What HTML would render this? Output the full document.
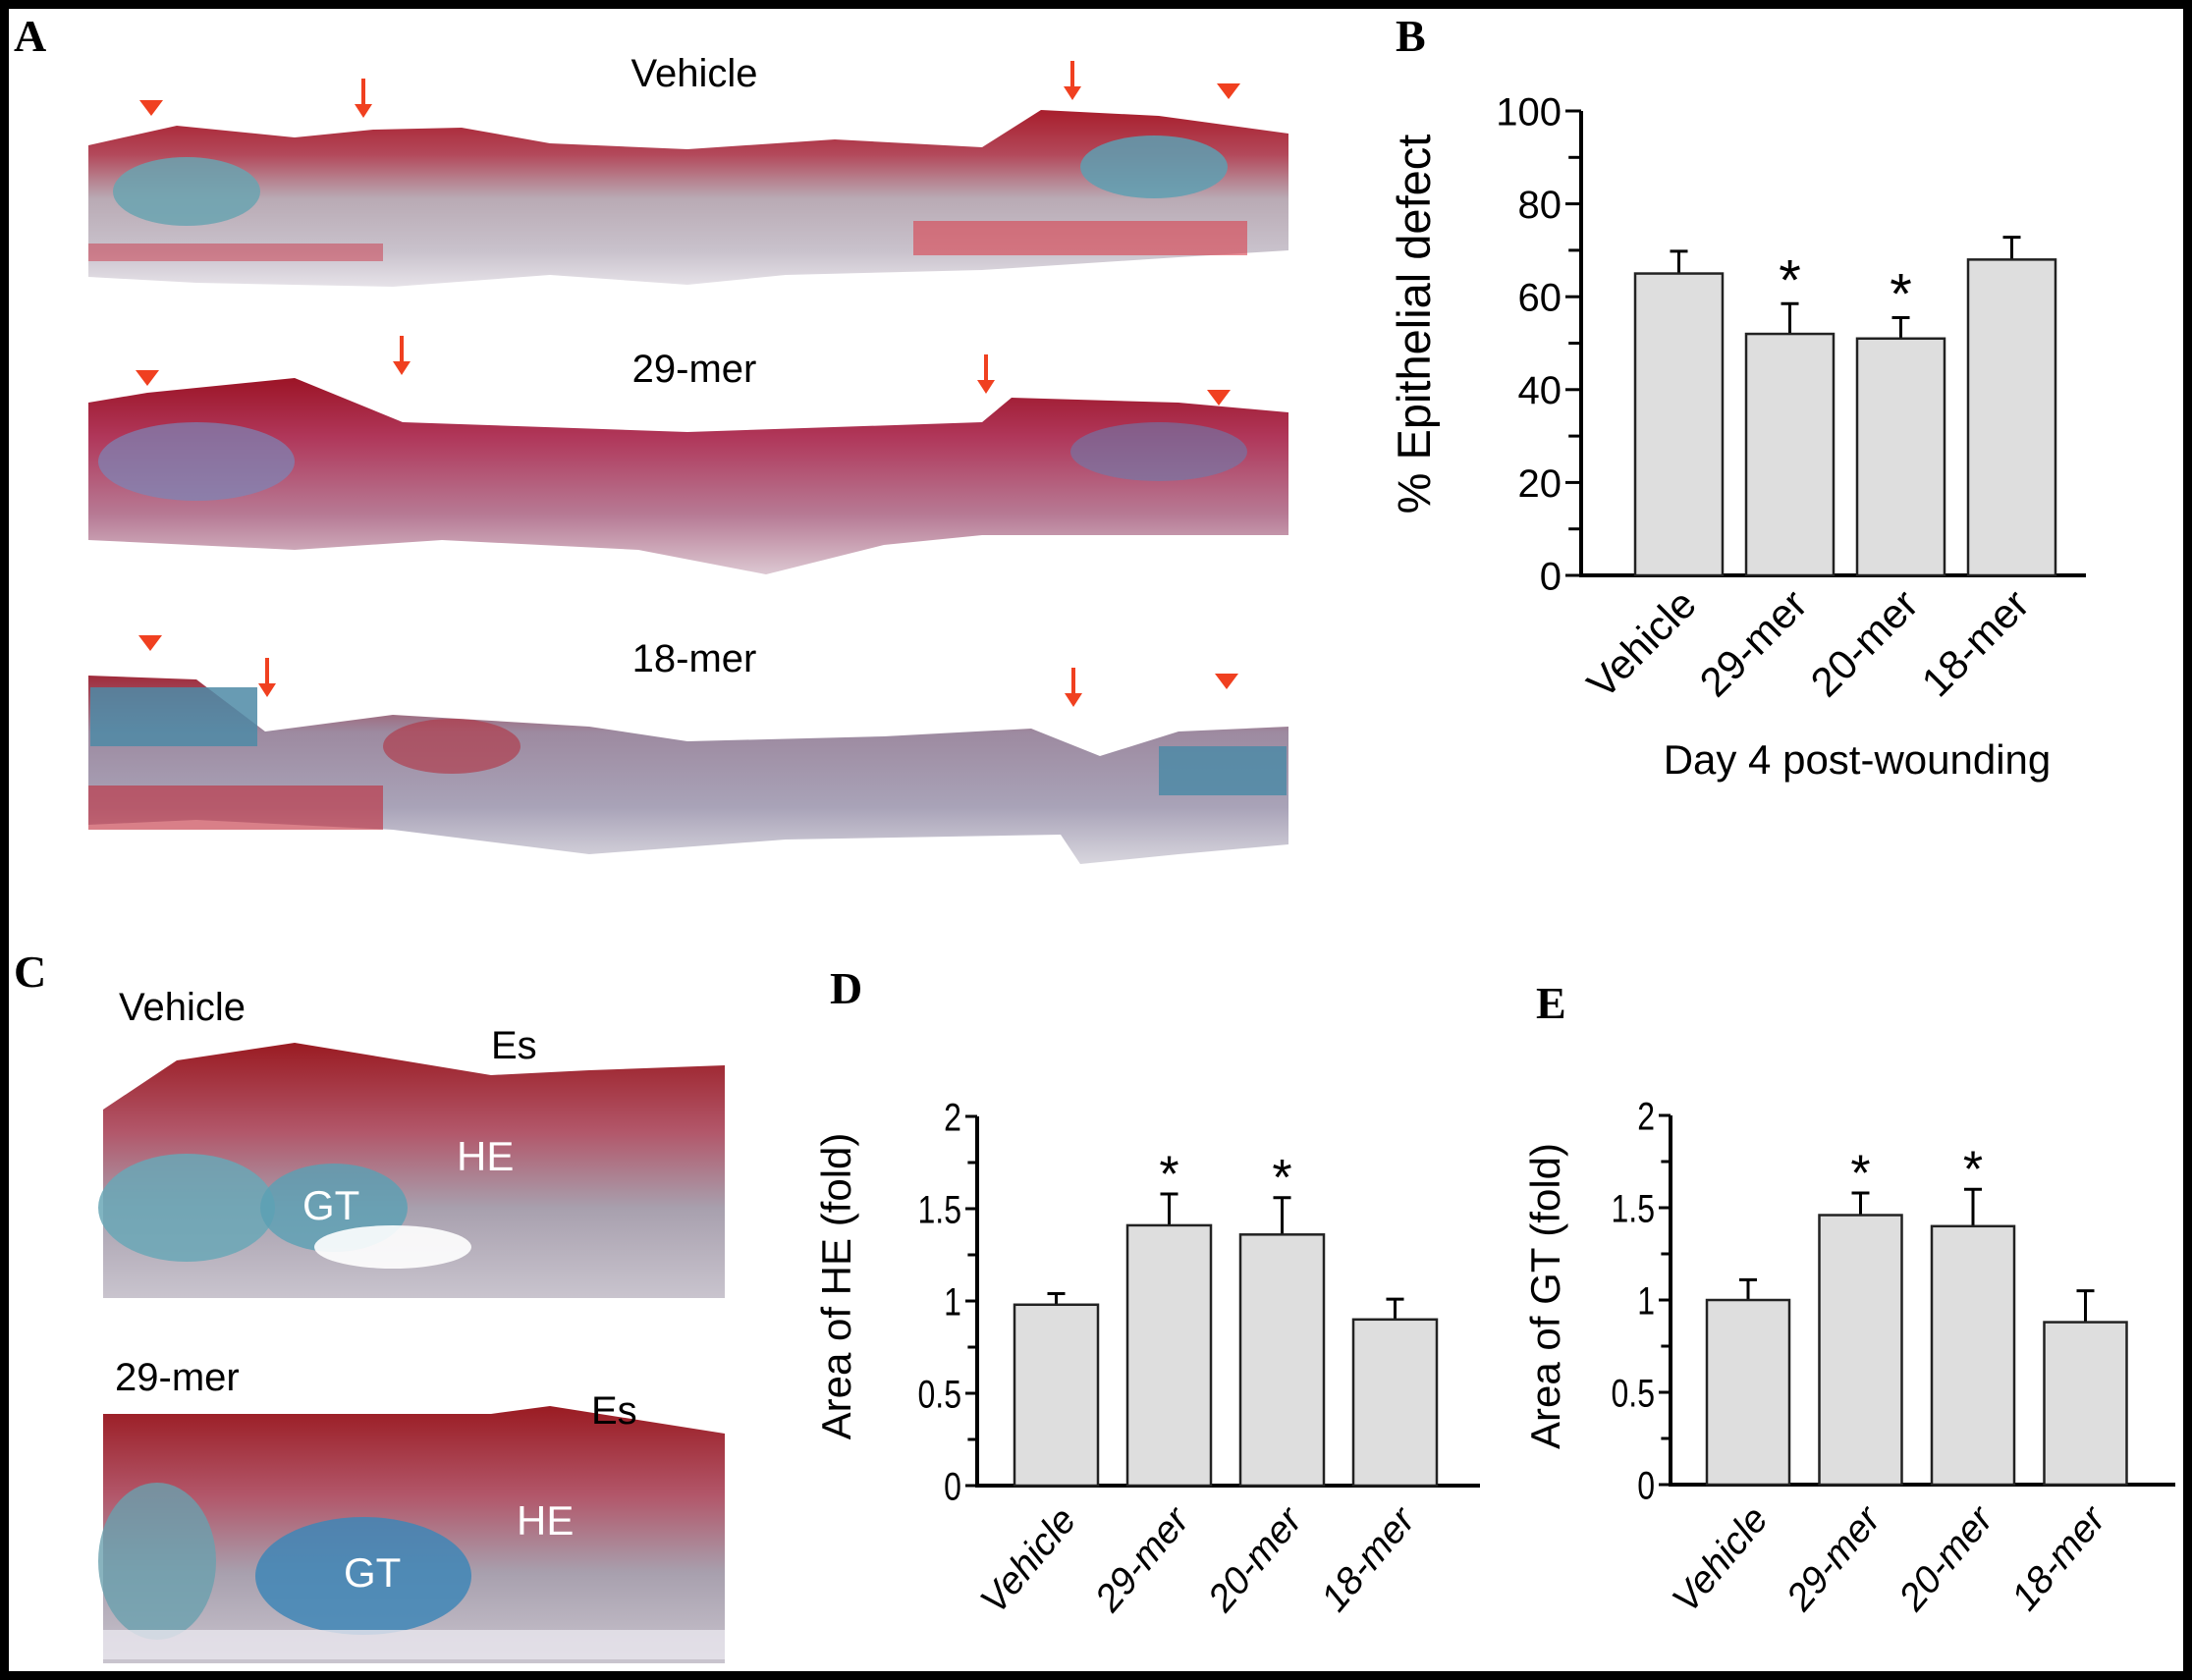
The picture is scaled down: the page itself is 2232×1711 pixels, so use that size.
<!DOCTYPE html>
<html><head><meta charset="utf-8"><style>
html,body{margin:0;padding:0;background:#fff}
svg{display:block}
text{font-family:"Liberation Sans",Arial,sans-serif}
.lt{font-family:"Liberation Serif",serif;font-weight:bold;font-size:46px}
</style></head><body>
<svg id="fig" width="2232" height="1711" viewBox="0 0 2232 1711" xmlns="http://www.w3.org/2000/svg">
<defs>
<linearGradient id="tis1" x1="0" y1="0" x2="0" y2="1">
<stop offset="0" stop-color="#a81e2c"/><stop offset="0.25" stop-color="#b3485a"/><stop offset="0.5" stop-color="#b9aab4"/><stop offset="0.8" stop-color="#c9c2cc"/><stop offset="1" stop-color="#e6e2e8"/></linearGradient>
<linearGradient id="tis2" x1="0" y1="0" x2="0" y2="1">
<stop offset="0" stop-color="#9c1426"/><stop offset="0.3" stop-color="#b0375a"/><stop offset="0.7" stop-color="#b77b95"/><stop offset="1" stop-color="#dcc8d2"/></linearGradient>
<linearGradient id="tis3" x1="0" y1="0" x2="0" y2="1">
<stop offset="0" stop-color="#a02a3a"/><stop offset="0.3" stop-color="#9d8aa0"/><stop offset="0.7" stop-color="#a9a3b8"/><stop offset="1" stop-color="#d8d6de"/></linearGradient>
<linearGradient id="tisC" x1="0" y1="0" x2="0" y2="1">
<stop offset="0" stop-color="#9a1b22"/><stop offset="0.35" stop-color="#b2576a"/><stop offset="0.65" stop-color="#a8a0ae"/><stop offset="1" stop-color="#c9c4ce"/></linearGradient>
</defs>

<rect x="0" y="0" width="2232" height="1711" fill="#fff"/>

<!-- Panel A -->
<text class="lt" x="14" y="52">A</text>
<g>
<path d="M90,148 L180,128 L300,140 L380,132 L470,130 L560,146 L700,152 L850,142 L1000,150 L1060,112 L1180,118 L1312,136 L1312,255 L1200,262 L1000,275 L800,280 L700,290 L560,280 L400,292 L200,288 L90,282 Z" fill="url(#tis1)"/>
<ellipse cx="190" cy="195" rx="75" ry="35" fill="#6aa3b0" opacity="0.85"/>
<ellipse cx="1175" cy="170" rx="75" ry="32" fill="#5e9fb2" opacity="0.85"/>
<rect x="930" y="225" width="340" height="35" fill="#d8404c" opacity="0.6"/>
<rect x="90" y="248" width="300" height="18" fill="#c93446" opacity="0.5"/>
</g>
<text x="707" y="88" font-size="40" text-anchor="middle">Vehicle</text>
<g>
<path d="M90,410 L150,400 L300,385 L410,430 L700,440 L1000,430 L1030,405 L1200,410 L1312,420 L1312,545 L1000,545 L900,555 L780,585 L650,560 L450,550 L300,560 L90,550 Z" fill="url(#tis2)"/>
<ellipse cx="200" cy="470" rx="100" ry="40" fill="#7b86b8" opacity="0.7"/>
<ellipse cx="1180" cy="460" rx="90" ry="30" fill="#6a7cae" opacity="0.6"/>
</g>
<text x="707" y="389" font-size="40" text-anchor="middle">29-mer</text>
<g>
<path d="M90,688 L200,692 L270,745 L400,728 L600,740 L700,755 L900,750 L1050,742 L1120,770 L1200,745 L1312,740 L1312,860 L1200,870 L1100,880 L1080,850 L800,855 L600,870 L400,845 L200,835 L90,840 Z" fill="url(#tis3)"/>
<rect x="92" y="700" width="170" height="60" fill="#4e89a6" opacity="0.85"/>
<rect x="1180" y="760" width="130" height="50" fill="#4e89a6" opacity="0.85"/>
<rect x="90" y="800" width="300" height="45" fill="#c02a38" opacity="0.6"/>
<ellipse cx="460" cy="760" rx="70" ry="28" fill="#b33040" opacity="0.6"/>
</g>
<text x="707" y="684" font-size="40" text-anchor="middle">18-mer</text>
<g fill="#f04020">
<polygon points="142,102 166,102 154,118"/><polygon points="1239,85 1263,85 1251,101"/>
<polygon points="138,377 162,377 150,393"/><polygon points="1229,397 1253,397 1241,413"/>
<polygon points="141,647 165,647 153,663"/><polygon points="1237,686 1261,686 1249,702"/>
<g stroke="#f04020" stroke-width="4">
<line x1="370" y1="80" x2="370" y2="110"/><line x1="1092" y1="62" x2="1092" y2="92"/>
<line x1="409" y1="342" x2="409" y2="372"/><line x1="1004" y1="361" x2="1004" y2="391"/>
<line x1="272" y1="670" x2="272" y2="700"/><line x1="1093" y1="680" x2="1093" y2="710"/></g>
<polygon points="361,106 379,106 370,120"/><polygon points="1083,88 1101,88 1092,102"/>
<polygon points="400,368 418,368 409,382"/><polygon points="995,387 1013,387 1004,401"/>
<polygon points="263,696 281,696 272,710"/><polygon points="1084,706 1102,706 1093,720"/>
</g>

<!-- Panel C -->
<text class="lt" x="14" y="1005">C</text>
<g>
<path d="M105,1130 L180,1080 L300,1062 L500,1095 L600,1090 L738,1085 L738,1322 L105,1322 Z" fill="url(#tisC)"/>
<ellipse cx="190" cy="1230" rx="90" ry="55" fill="#6aa7b6" opacity="0.85"/>
<ellipse cx="340" cy="1230" rx="75" ry="45" fill="#5aa0b4" opacity="0.8"/>
<ellipse cx="400" cy="1270" rx="80" ry="22" fill="#ffffff" opacity="0.9"/>
</g>
<text x="121" y="1039" font-size="40">Vehicle</text>
<text x="500" y="1078" font-size="40">Es</text>
<text x="465" y="1192" font-size="42" fill="#fff">HE</text>
<text x="308" y="1242" font-size="42" fill="#fff">GT</text>
<g>
<path d="M105,1440 L300,1440 L500,1440 L560,1432 L738,1460 L738,1694 L105,1694 Z" fill="url(#tisC)"/>
<ellipse cx="160" cy="1590" rx="60" ry="80" fill="#6aa0ae" opacity="0.8"/>
<ellipse cx="370" cy="1605" rx="110" ry="60" fill="#3f86b6" opacity="0.85"/>
<rect x="105" y="1660" width="633" height="30" fill="#e8e6ee" opacity="0.8"/>
</g>
<text x="117" y="1416" font-size="40">29-mer</text>
<text x="602" y="1450" font-size="40">Es</text>
<text x="526" y="1563" font-size="42" fill="#fff">HE</text>
<text x="350" y="1616" font-size="42" fill="#fff">GT</text>

<text class="lt" x="1421" y="52">B</text>
<text class="lt" x="845" y="1022">D</text>
<text class="lt" x="1564" y="1037">E</text>
<text x="1891" y="788" font-size="42" text-anchor="middle">Day 4 post-wounding</text>

<g id="chartB"></g>
<g id="chartD"></g>
<g id="chartE"></g>

<rect x="4.5" y="4.5" width="2223" height="1702" fill="none" stroke="#000" stroke-width="9"/>
</svg>
<script>
const categories = ["Vehicle","29-mer","20-mer","18-mer"];
const bValues = [65, 52, 51, 68];
const bErrors = [4.8, 6.5, 4.5, 4.8];
const bSig = [false, true, true, false];
const bTicks = ["0","20","40","60","80","100"];
const dValues = [0.98, 1.41, 1.36, 0.90];
const dErrors = [0.06, 0.17, 0.20, 0.11];
const dSig = [false, true, true, false];
const eValues = [1.00, 1.46, 1.40, 0.88];
const eErrors = [0.11, 0.12, 0.20, 0.17];
const eSig = [false, true, true, false];
const deTicks = ["0","0.5","1","1.5","2"];

const NS = "http://www.w3.org/2000/svg";
function mk(parent, tag, attrs, txt){
  const el = document.createElementNS(NS, tag);
  for (const k in attrs) el.setAttribute(k, attrs[k]);
  if (txt !== undefined) el.textContent = txt;
  parent.appendChild(el);
  return el;
}
function drawChart(g, c, values, errors, sig, ticks){
  const y = v => c.y0 - (v - c.min) / (c.max - c.min) * (c.y0 - c.y1);
  const xL = i => c.barStart + i * c.step;
  const ya = mk(g, "line", {x1:c.ax, y1:c.y1, x2:c.ax, y2:c.y0+1.5, stroke:"#000", "stroke-width":4});
  
  
  const xa = mk(g, "line", {x1:c.ax-2, y1:c.y0, x2:c.xEnd, y2:c.y0, stroke:"#000", "stroke-width":4});
  
  
  const nMinor = (ticks.length - 1) * 2;
  for (let k = 0; k <= nMinor; k++){
    const v = c.min + (c.max - c.min) * k / nMinor;
    const major = k % 2 === 0;
    const t = mk(g, "line", {x1:c.ax-(major?c.tickLen:c.tickLen*0.8), y1:y(v), x2:c.ax, y2:y(v), stroke:"#000", "stroke-width":3});
    
    
    if (major){
      const lx = c.ax-c.tickLen-4;
      const lab = mk(g, "text", {x:lx, y:y(v)+c.tickFont*0.36, "font-size":c.tickFont, "text-anchor":"end"}, ticks[k/2]);
      
      
      if (c.condensed) lab.setAttribute('transform', `translate(${lx},0) scale(0.8,1) translate(${-lx},0)`);
    }
  }
  values.forEach((v, i) => {
    const x0 = xL(i), cx = x0 + c.barW/2;
    const er = mk(g, "line", {x1:cx, y1:y(v), x2:cx, y2:y(v+errors[i]), stroke:"#000", "stroke-width":3});
    
    
    const cap = mk(g, "line", {x1:cx-9, y1:y(v+errors[i]), x2:cx+9, y2:y(v+errors[i]), stroke:"#000", "stroke-width":3});
    
    
    const b = mk(g, "rect", {x:x0, y:y(v), width:c.barW, height:c.y0 - y(v), fill:"#dedede", stroke:"#222", "stroke-width":2.5});
    
    
    if (sig[i]){
      const s = mk(g, "text", {x:cx, y:y(v+errors[i]) - c.starGap + c.starFont*0.45, "font-size":c.starFont, "text-anchor":"middle"}, "*");
      
      
    }
    const tx = cx + c.labDx, ty = c.y0 + c.labDy;
    const l = mk(g, "text", {x:tx, y:ty, "font-size":c.labFont, "text-anchor":"end", transform:`rotate(${c.rot} ${tx} ${ty})`, "font-style":c.italic?"italic":"normal"}, categories[i]);
    
    
  });
  const tt = mk(g, "text", {x:c.titleX, y:c.titleY, "font-size":c.titleFont, "text-anchor":"middle", transform:`rotate(-90 ${c.titleX} ${c.titleY})`}, c.title);
  
  
}
drawChart(document.getElementById('chartB'),
  {ax:1610, y0:586, y1:113, min:0, max:100, xEnd:2124, barStart:1665, step:113, barW:89, tickLen:16, tickFont:40,
   starFont:58, starGap:30, labFont:42, labDx:20, labDy:32, rot:-45, italic:false,
   title:"% Epithelial defect", titleX:1456, titleY:330, titleFont:47}, bValues, bErrors, bSig, bTicks);
drawChart(document.getElementById('chartD'),
  {ax:995, y0:1513, y1:1137, min:0, max:2, xEnd:1507, barStart:1033, step:115, barW:85, tickLen:12, tickFont:40, condensed:true,
   starFont:52, starGap:26, labFont:39, labDx:22, labDy:36, rot:-50, italic:true,
   title:"Area of HE  (fold)", titleX:866, titleY:1310, titleFont:42}, dValues, dErrors, dSig, deTicks);
drawChart(document.getElementById('chartE'),
  {ax:1701, y0:1512, y1:1136, min:0, max:2, xEnd:2215, barStart:1738, step:114.5, barW:84, tickLen:12, tickFont:40, condensed:true,
   starFont:52, starGap:26, labFont:39, labDx:22, labDy:36, rot:-50, italic:true,
   title:"Area of GT  (fold)", titleX:1588, titleY:1320, titleFont:42}, eValues, eErrors, eSig, deTicks);
</script>
</body></html>
